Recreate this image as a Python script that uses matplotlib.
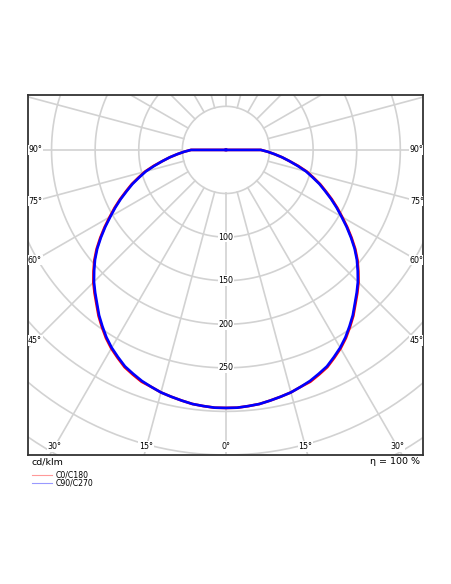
import matplotlib
matplotlib.use("Agg")
import matplotlib.pyplot as plt
import numpy as np

# luminous intensity (cd/klm), gamma in degrees
gamma = [0, 2.5, 5, 7.5, 10, 12.5, 15, 17.5, 20, 22.5, 25, 27.5, 30, 32.5, 35, 37.5,
         40, 42.5, 45, 47.5, 50, 52.5, 55, 57.5, 60, 62.5, 65, 67.5, 70, 72.5,
         75, 77.5, 80, 82.5, 85, 87.5, 90, 95, 180]
c0_c180 = [296, 296, 295, 294, 292, 290, 288, 285, 283, 279, 275, 269, 263, 256, 248, 240,
           231, 223, 215, 206, 197, 187, 176, 165, 154, 144, 134, 124, 115, 105,
           96, 85, 74, 65, 56, 48, 40, 0, 0]
c90_c270 = [296, 296, 295, 294, 292, 290, 288, 285, 282, 278, 274, 268, 262, 255, 247, 239,
            230, 222, 214, 205, 196, 186, 175, 164, 153, 143, 133, 123, 114, 104,
            95, 84, 74, 65, 56, 48, 40, 0, 0]

ring_values = [50, 100, 150, 200, 250, 300, 350, 400, 450, 500, 550]
ring_labels = [100, 150, 200, 250]
bottom_angles = [-30, -15, 0, 15, 30]
side_angles = [45, 60, 75, 90]
efficiency = 100


def to_xy(ang_deg, r):
    a = np.radians(np.asarray(ang_deg, dtype=float))
    r = np.asarray(r, dtype=float)
    return r * np.sin(a), -r * np.cos(a)


def full_curve(vals):
    g = np.array(gamma, dtype=float)
    v = np.array(vals, dtype=float)
    ang = np.concatenate([-g[::-1], g[1:]])
    rr = np.concatenate([v[::-1], v[1:]])
    return to_xy(ang, rr)


fig = plt.figure(figsize=(4.52, 5.84), dpi=100)
ax = fig.add_axes([28 / 452, 129 / 584, 395 / 452, 360 / 584])
ax.set_xlim(-227, 226)
ax.set_ylim(-350, 63)
ax.set_xticks([])
ax.set_yticks([])
for s in ax.spines.values():
    s.set_color('#333333')
    s.set_linewidth(1.3)

grid_col = '#d2d2d2'
t = np.linspace(0, 360, 361)
for rv in ring_values:
    gx, gy = to_xy(t, np.full_like(t, rv))
    ax.plot(gx, gy, color=grid_col, lw=1.2, zorder=1)
for a in range(0, 360, 15):
    sx, sy = to_xy([a, a], [50, 700])
    ax.plot(sx, sy, color=grid_col, lw=1.2, zorder=1)

x0, y0 = full_curve(c0_c180)
x1, y1 = full_curve(c90_c270)
ax.plot(x0, y0, color='red', lw=1.9, zorder=3, solid_joinstyle='round')
ax.plot(x1, y1, color='blue', lw=1.9, zorder=4, solid_joinstyle='round')

box = dict(facecolor='white', edgecolor='none', pad=0.6)
fs = 5.7
for rv in ring_labels:
    ax.text(0, -rv, str(rv), ha='center', va='center', fontsize=fs,
            bbox=box, zorder=5)

yb = -340.6
for a in bottom_angles:
    ax.text(yb * -np.tan(np.radians(a)), yb, f"{abs(a)}°", ha='center',
            va='center', fontsize=fs, bbox=box, zorder=5)
xs = 219
for a in side_angles:
    yy = -xs / np.tan(np.radians(a)) if a != 90 else 0
    ax.text(-xs, yy, f"{a}°", ha='center', va='center', fontsize=fs,
            bbox=box, zorder=5, clip_on=True)
    ax.text(xs, yy, f"{a}°", ha='center', va='center', fontsize=fs,
            bbox=box, zorder=5, clip_on=True)

fig.text(32 / 452, 1 - 462 / 584, "cd/klm", fontsize=6.8, va='center', ha='left')
fig.text(420 / 452, 1 - 462 / 584, f"η = {efficiency} %", fontsize=6.8,
         va='center', ha='right')

# legend
for yy, col, lab in [(475, '#ff9999', 'C0/C180'), (483, '#9999ff', 'C90/C270')]:
    fy = 1 - yy / 584
    fig.add_artist(plt.Line2D([32 / 452, 52 / 452], [fy, fy], color=col, lw=0.8))
    fig.text(56 / 452, fy, lab, fontsize=5.6, va='center', ha='left')

fig.savefig("out.png", dpi=100, facecolor='white')
